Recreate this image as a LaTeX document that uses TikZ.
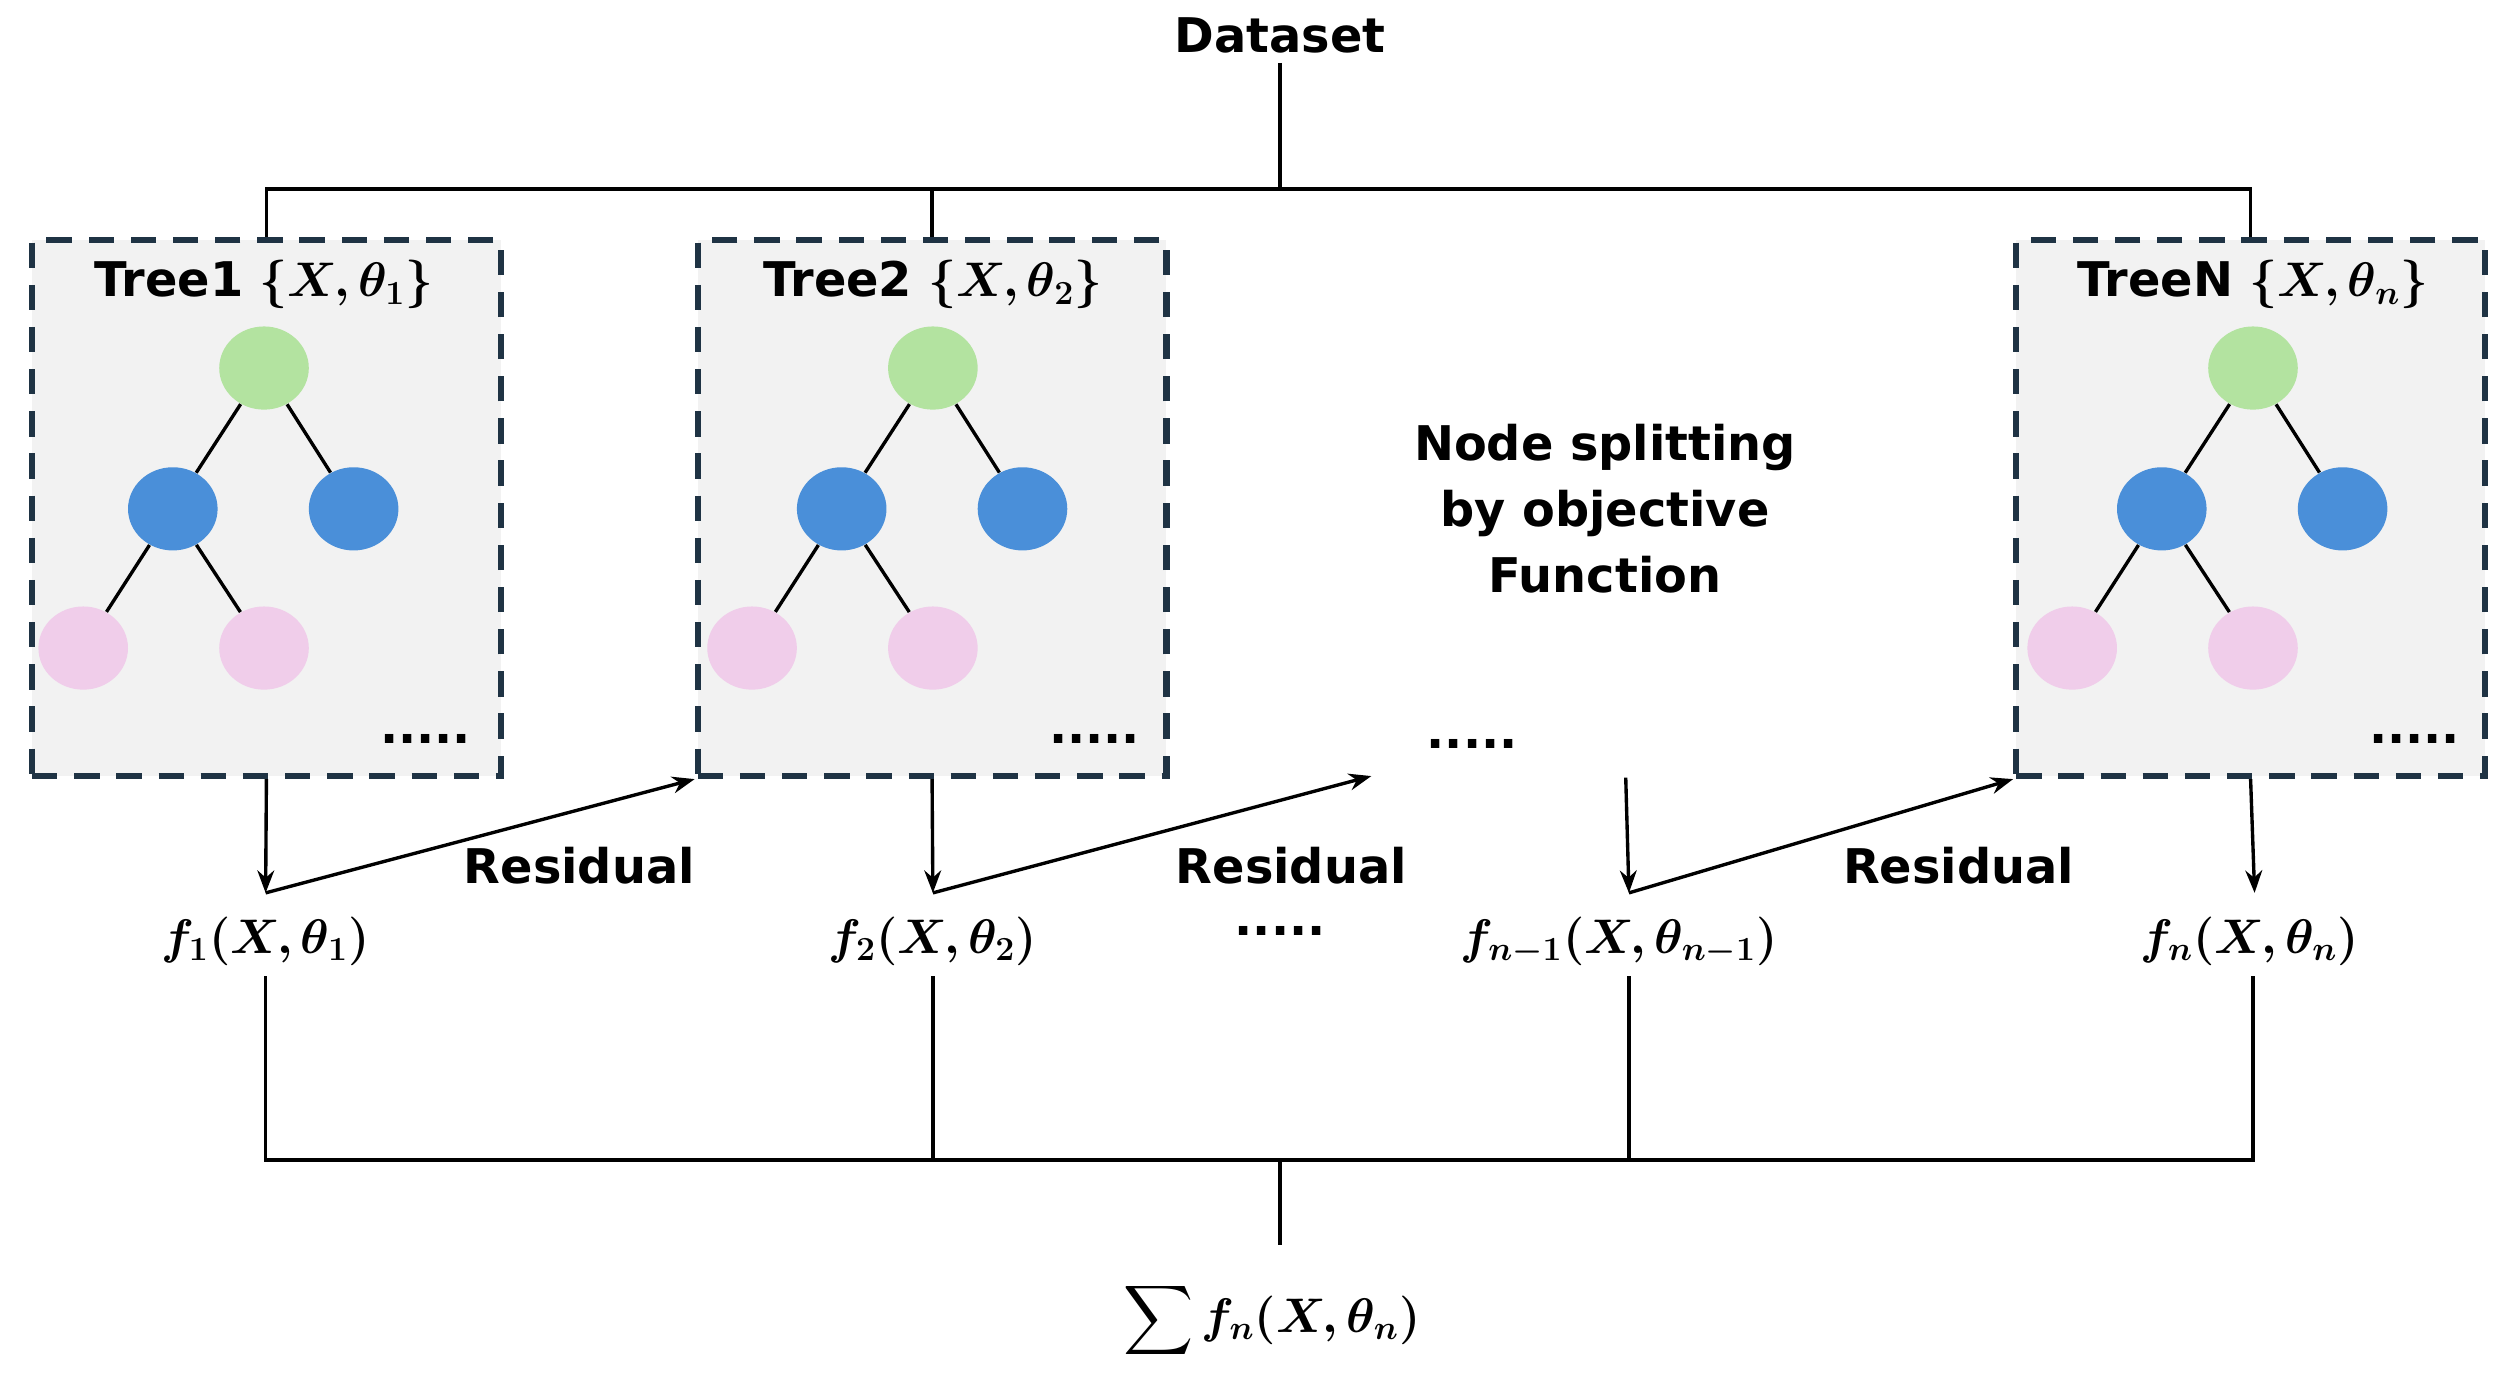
\documentclass[tikz,border=0pt]{standalone}
\usepackage{amsmath,bm}
\usepackage{fontspec}
\setmainfont{DejaVu Sans}
\usetikzlibrary{shapes.geometric,arrows.meta}
\definecolor{boxfill}{HTML}{F2F2F2}
\definecolor{boxline}{HTML}{1F3344}
\definecolor{cgreen}{HTML}{B3E3A0}
\definecolor{cblue}{HTML}{4A8FD9}
\definecolor{cpink}{HTML}{F0CDEA}
\begin{document}
\begin{tikzpicture}[x=0.02cm,y=-0.02cm,
  box/.style={draw=boxline,fill=boxfill,line width=2.2pt,dash pattern=on 9pt off 6pt,minimum width=5.86cm,minimum height=6.7cm,inner sep=0},
  nd/.style={ellipse,minimum width=1.12cm,minimum height=1.04cm,inner sep=0},
  gn/.style={nd,fill=cgreen},bn/.style={nd,fill=cblue},pn/.style={nd,fill=cpink},
  lbl/.style={font=\fontsize{17}{20}\selectfont\bfseries},
  mth/.style={font=\fontsize{17}{20}\selectfont},
  ln/.style={line width=1.2pt},
  arr/.style={line width=1.2pt,-{Stealth[length=8pt,width=6pt]}}]
\useasboundingbox (0,0) rectangle (1568,869);
\node[lbl] (ds) at (800,22) {Dataset};
\coordinate (top) at (800,118);
% boxes
\foreach \n/\x in {1/166.5,2/582.5,3/1406.5}{
  \node[box] (b\n) at (\x,317.5) {};
}
\node[lbl] (t1) at (165,178) {Tree1 $\bm{\{X,\theta_1\}}$};
\node[lbl] (t2) at (583,178) {Tree2 $\bm{\{X,\theta_2\}}$};
\node[lbl] (t3) at (1408,178) {TreeN $\bm{\{X,\theta_n\}}$};
\foreach \n/\d in {1/0,2/418,3/1243}{
  \node[gn] (r\n) at (165+\d,230) {};
  \node[bn] (l\n) at (108+\d,318) {};
  \node[bn] (rr\n) at (221+\d,318) {};
  \node[pn] (p\n) at (52+\d,405) {};
  \node[pn] (q\n) at (165+\d,405) {};
  \node[lbl] (d\n) at (266+\d,462) {.....};
  \draw[ln] (r\n) -- (l\n); \draw[ln] (r\n) -- (rr\n);
  \draw[ln] (l\n) -- (p\n); \draw[ln] (l\n) -- (q\n);
}
\draw[ln] (ds.south) -- (top);
\draw[ln] (b1.north) |- (top) -| (b3.north);
\draw[ln] (b2.north) -- (b2.north |- top);
\node[lbl,align=center,font=\fontsize{17}{23.5}\selectfont\bfseries] (ns) at (1003,318) {Node splitting\\by objective\\Function};
\node[lbl] (dm) at (920,465) {.....};
% f labels
\node[mth] (f1) at (166,588) {$\bm{f_1(X,\theta_1)}$};
\node[mth] (f2) at (583,588) {$\bm{f_2(X,\theta_2)}$};
\node[lbl] (fd) at (800,582) {.....};
\node[mth] (f3) at (1012,588) {$\bm{f_{n-1}(X,\theta_{n-1})}$};
\node[mth] (f4) at (1406,588) {$\bm{f_n(X,\theta_n)}$};
\coordinate (a1) at (166,558);
\coordinate (a2) at (583,558);
\coordinate (a3) at (1018,558);
\coordinate (a4) at (1409,558);
\coordinate (s3) at (1016,486);
\coordinate (e2) at (857,485);
\draw[arr] (b1.south) -- (a1);
\draw[arr] (a1) -- (b2.south west);
\draw[arr] (b2.south) -- (a2);
\draw[arr] (a2) -- (e2);
\draw[arr] (s3) -- (a3);
\draw[arr] (a3) -- (b3.south west);
\draw[arr] (b3.south) -- (a4);
\node[lbl] (res1) at (362,541) {Residual};
\node[lbl] (res2) at (807,541) {Residual};
\node[lbl] (res3) at (1224,541) {Residual};
% sum
\coordinate (bot) at (800,725);
\draw[ln] (166,610) -- (166,725) -- (1408,725) -- (1408,610);
\draw[ln] (583,610) -- (583,725);
\draw[ln] (1018,610) -- (1018,725);
\node[mth] (sum) at (795,825) {$\displaystyle\sum \bm{f_n(X,\theta_n)}$};
\draw[ln] (bot) -- (800,778);
\end{tikzpicture}
\end{document}
